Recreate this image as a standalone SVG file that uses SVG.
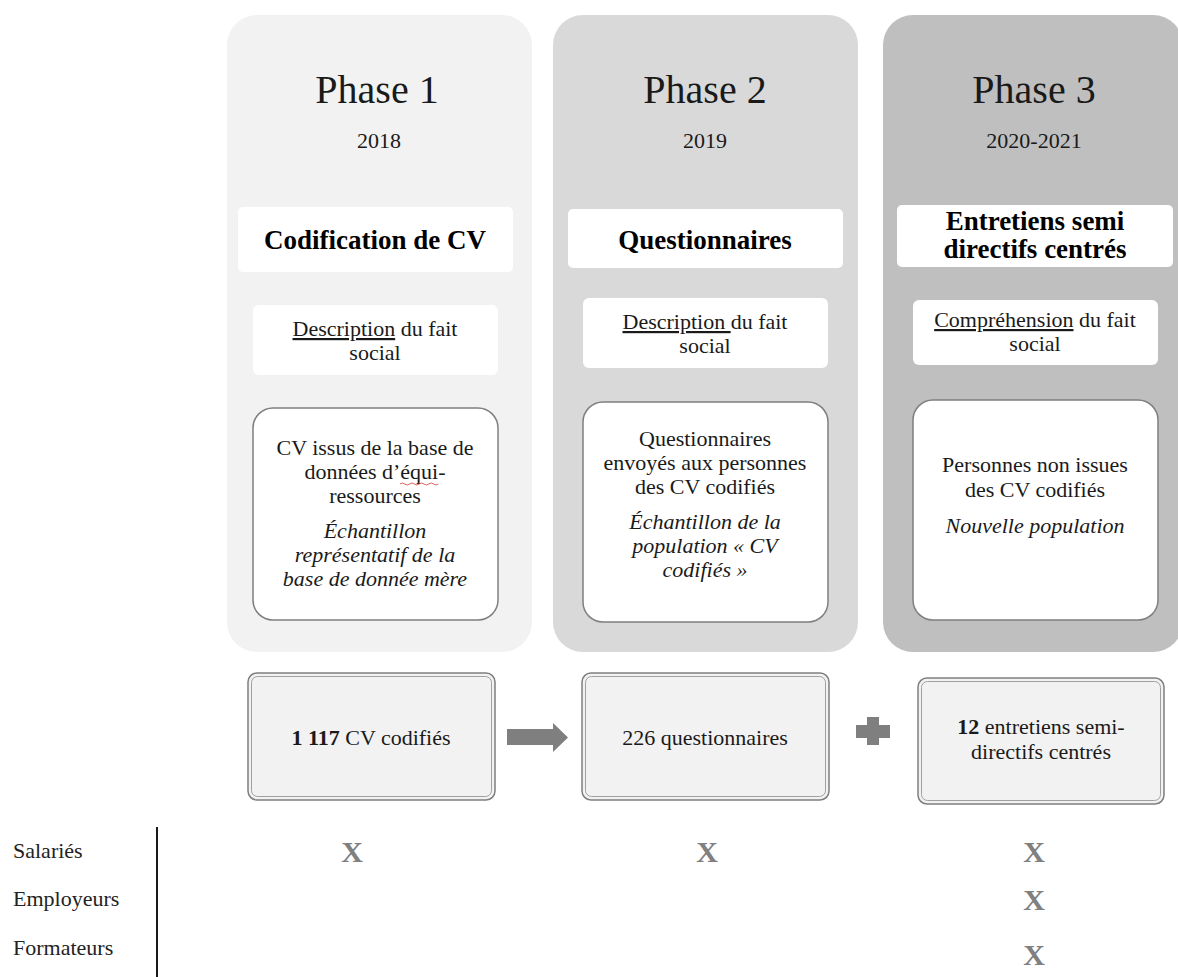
<svg xmlns="http://www.w3.org/2000/svg" width="1178" height="977" viewBox="0 0 1178 977">
<style>
text{font-family:"Liberation Serif","Times New Roman",serif;fill:#1a1a1a;text-anchor:middle}
.ph{font-size:40px}
.yr{font-size:22px}
.tt{font-size:27px;font-weight:bold;fill:#000}
.bd{font-size:22px}
.it{font-size:22px;font-style:italic}
.ul{text-decoration:underline}
.b{font-weight:bold}
.wb{fill:#ffffff}
.mb{fill:#ffffff;stroke:#7f7f7f;stroke-width:1.5}
.cb{fill:#f2f2f2;stroke:#7f7f7f;stroke-width:1.5}
.cbi{fill:none;stroke:#a0a0a0;stroke-width:1}
.lb{font-size:22px;text-anchor:start;fill:#222}
.x{font-size:30px;font-weight:bold;fill:#808080}
.con{fill:#7f7f7f}
</style>

<g id="phase1">
<rect x="227" y="15" width="305" height="637" rx="30" fill="#f2f2f2"/>
<text class="ph" x="377" y="103">Phase 1</text>
<text class="yr" x="379" y="148">2018</text>
<rect class="wb" x="238" y="207" width="275" height="65" rx="5"/>
<text class="tt" x="375" y="249">Codification de CV</text>
<rect class="wb" x="253" y="305" width="245" height="70" rx="6"/>
<text class="bd" x="375" y="336"><tspan class="ul">Description</tspan> du fait</text>
<text class="bd" x="375" y="360">social</text>
<rect class="mb" x="253" y="408" width="245" height="212" rx="20"/>
<text class="bd" x="375" y="455">CV issus de la base de</text>
<text class="bd" x="375" y="479">données d’équi-</text>
<path d="M400 484 q2.4 -2 4.8 0 t4.8 0 t4.8 0 t4.8 0 t4.8 0 t4.8 0 t4.8 0 t4.8 0" fill="none" stroke="#e06060" stroke-width="1"/>
<text class="bd" x="375" y="503">ressources</text>
<text class="it" x="375" y="538">Échantillon</text>
<text class="it" x="375" y="562">représentatif de la</text>
<text class="it" x="375" y="586">base de donnée mère</text>
</g>

<g id="phase2">
<rect x="553" y="15" width="305" height="637" rx="30" fill="#d9d9d9"/>
<text class="ph" x="705" y="103">Phase 2</text>
<text class="yr" x="705" y="148">2019</text>
<rect class="wb" x="568" y="209" width="275" height="59" rx="5"/>
<text class="tt" x="705" y="249">Questionnaires</text>
<rect class="wb" x="583" y="298" width="245" height="70" rx="6"/>
<text class="bd" x="705" y="329"><tspan class="ul">Description </tspan>du fait</text>
<text class="bd" x="705" y="353">social</text>
<rect class="mb" x="583" y="402" width="245" height="220" rx="20"/>
<text class="bd" x="705" y="446">Questionnaires</text>
<text class="bd" x="705" y="470">envoyés aux personnes</text>
<text class="bd" x="705" y="494">des CV codifiés</text>
<text class="it" x="705" y="529">Échantillon de la</text>
<text class="it" x="705" y="553">population « CV</text>
<text class="it" x="705" y="577">codifiés »</text>
</g>

<g id="phase3">
<rect x="883" y="15" width="300" height="637" rx="30" fill="#bfbfbf"/>
<text class="ph" x="1034" y="103">Phase 3</text>
<text class="yr" x="1034" y="148">2020-2021</text>
<rect class="wb" x="897" y="205" width="276" height="62" rx="5"/>
<text class="tt" x="1035" y="230">Entretiens semi</text>
<text class="tt" x="1035" y="258">directifs centrés</text>
<rect class="wb" x="913" y="300" width="245" height="65" rx="6"/>
<text class="bd" x="1035" y="327"><tspan class="ul">Compréhension</tspan> du fait</text>
<text class="bd" x="1035" y="351">social</text>
<rect class="mb" x="913" y="400" width="245" height="220" rx="20"/>
<text class="bd" x="1035" y="472">Personnes non issues</text>
<text class="bd" x="1035" y="497">des CV codifiés</text>
<text class="it" x="1035" y="533">Nouvelle population</text>
</g>

<g id="count1">
<rect class="cb" x="248" y="673" width="247" height="127" rx="9"/>
<rect class="cbi" x="251.5" y="676.5" width="240" height="120" rx="6"/>
<text class="bd" x="371" y="745"><tspan class="b">1 117</tspan> CV codifiés</text>
</g>

<g id="count2">
<rect class="cb" x="582" y="673" width="247" height="127" rx="9"/>
<rect class="cbi" x="585.5" y="676.5" width="240" height="120" rx="6"/>
<text class="bd" x="705" y="745">226 questionnaires</text>
</g>

<g id="count3">
<rect class="cb" x="918" y="678" width="246" height="126" rx="9"/>
<rect class="cbi" x="921.5" y="681.5" width="239" height="119" rx="6"/>
<text class="bd" x="1041" y="734"><tspan class="b">12</tspan> entretiens semi-</text>
<text class="bd" x="1041" y="759">directifs centrés</text>
</g>

<g id="connectors">
<path class="con" d="M507 729 H553 V723 L568 737.5 L553 752 V745 H507 Z"/>
<path class="con" d="M867 717 H879 V725 H890 V738 H879 V745 H867 V738 H856 V725 H867 Z"/>
</g>

<g id="legend">
<text class="lb" x="13" y="858">Salariés</text>
<text class="lb" x="13" y="906">Employeurs</text>
<text class="lb" x="13" y="955">Formateurs</text>
<line x1="157" y1="827" x2="157" y2="977" stroke="#1a1a1a" stroke-width="2"/>
<text class="x" x="352" y="862">X</text>
<text class="x" x="707" y="862">X</text>
<text class="x" x="1034" y="862">X</text>
<text class="x" x="1034" y="910">X</text>
<text class="x" x="1034" y="965">X</text>
</g>
</svg>
